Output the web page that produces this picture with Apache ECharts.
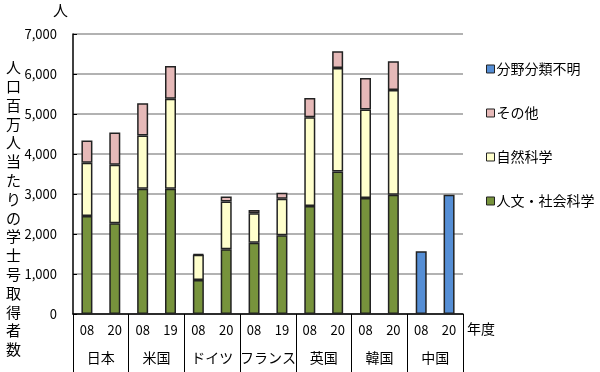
<!DOCTYPE html>
<html><head><meta charset="utf-8">
<script src="https://cdn.jsdelivr.net/npm/echarts@6/dist/echarts.min.js"></script>
<style>html,body{margin:0;padding:0;background:#fff}#c{width:600px;height:372px}</style>
</head><body><div id="c"></div>
<script>
const countries = ['日本','米国','ドイツ','フランス','英国','韓国','中国'];
const years = ['08','20','08','19','08','20','08','19','08','20','08','20','08','20'];
const humanities = [2450,2270,3130,3130,850,1620,1780,1970,2700,3560,2900,2980,null,null];
const natural =    [1330,1460,1330,2250,630,1190,740,910,2220,2590,2210,2620,null,null];
const other =      [560,810,810,820,20,130,80,150,480,420,790,720,null,null];
const unknown =    [null,null,null,null,null,null,null,null,null,null,null,null,1570,2980];
const yTicks = [0,1000,2000,3000,4000,5000,6000,7000];

const F = '"Noto Sans CJK JP", sans-serif';
const cats = years.map((y,i)=> countries[Math.floor(i/2)] + y);
const border = {borderColor:'#222', borderWidth:1.5};
const chart = echarts.init(document.getElementById('c'));
chart.setOption({
  animation:false,
  grid:{left:73, top:34, right:137, bottom:58, containLabel:false},
  xAxis:[
    {type:'category', data:cats, position:'bottom',
     axisLine:{show:true, lineStyle:{color:'#000', width:1.5}},
     axisTick:{show:false},
     axisLabel:{formatter:(v)=>v.slice(-2), fontFamily:F, fontSize:13, color:'#000', margin:10, interval:0}},
    {type:'category', data:countries, position:'bottom',
     axisLine:{show:false},
     axisTick:{show:true, length:58, lineStyle:{color:'#000', width:1}},
     axisLabel:{fontFamily:F, fontSize:14, color:'#000', margin:37, interval:0}}
  ],
  yAxis:{type:'value', min:0, max:7000, interval:1000,
    axisLine:{show:true, lineStyle:{color:'#000', width:1.5}},
    axisTick:{show:true, inside:true, length:4, lineStyle:{color:'#000'}},
    splitLine:{lineStyle:{color:'#999', width:1.5}},
    axisLabel:{fontFamily:F, fontSize:13, color:'#000', margin:16,
      formatter:(v)=> yTicks.includes(v) ? v.toLocaleString('en-US') : ''}},
  legend:{orient:'vertical', left:481, top:57, itemWidth:8, itemHeight:8, itemGap:30,
    icon:'rect', data:['分野分類不明','その他','自然科学','人文・社会科学'],
    itemStyle:{borderColor:'#222', borderWidth:1},
    textStyle:{fontFamily:F, fontSize:14, color:'#000', padding:[0,0,0,-3]}},
  series:[
    {name:'人文・社会科学', type:'bar', stack:'a', data:humanities, barWidth:11,
     itemStyle:Object.assign({color:'#77933C'},border)},
    {name:'自然科学', type:'bar', stack:'a', data:natural, barWidth:11,
     itemStyle:Object.assign({color:'#FFFFCC'},border)},
    {name:'その他', type:'bar', stack:'a', data:other, barWidth:11,
     itemStyle:Object.assign({color:'#E6B9B8'},border)},
    {name:'分野分類不明', type:'bar', stack:'a', data:unknown, barWidth:11,
     itemStyle:Object.assign({color:'#558ED5'},border)}
  ],
  graphic:[
    {type:'text', left:53, top:3, style:{text:'人', font:'15px '+F, fill:'#000'}},
    {type:'text', left:6, top:58, style:{text:'人口百万人当たりの学士号取得者数'.split('').join('\n'), font:'15px '+F, lineHeight:18.8, fill:'#000'}},
    {type:'text', left:467, top:322, style:{text:'年度', font:'14px '+F, fill:'#000'}}
  ]
});
</script></body></html>
